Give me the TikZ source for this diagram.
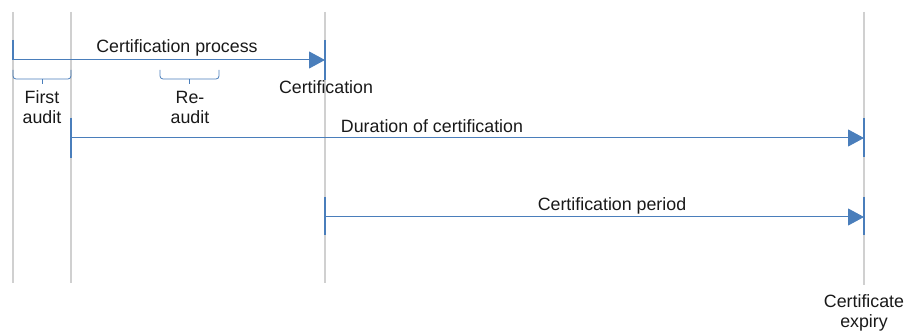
\documentclass[tikz,border=0pt]{standalone}
\usepackage{fontspec}
\setmainfont{Liberation Sans}
\usetikzlibrary{arrows.meta}
\definecolor{lineblue}{HTML}{4A7EBB}
\definecolor{guide}{HTML}{D0D0D0}
\begin{document}
\begin{tikzpicture}[x=1pt,y=-1pt,
  guideline/.style={draw=guide,line width=1.5pt},
  tick/.style={draw=lineblue,line width=1.2pt},
  span/.style={draw=lineblue,line width=1pt,-{Triangle[length=16pt,width=17pt]}},
  brace/.style={draw=lineblue,line width=0.8pt,rounded corners=3pt},
  lbl/.style={font=\fontsize{17.8}{20}\selectfont,inner sep=0pt,align=center,text=black!90}]
\useasboundingbox (0,0) rectangle (906,334);
% guide lines
\foreach \n/\x/\b in {ga/13/283, gb/71/283, gc/325/283, gd/864/285}{
  \coordinate (\n top) at (\x,12);
  \coordinate (\n bot) at (\x,\b);
  \draw[guideline] (\n top) -- (\n bot);
}
% certification process
\coordinate (p0) at (13,60);
\coordinate (p1) at (325,60);
\draw[tick] (13,40) -- (13,60);
\draw[tick] (325,40) -- (325,80);
\draw[span] (p0) -- (p1);
\node[lbl] (cp) at (177,48) {Certification process};
\node[lbl] (cert) at (326,87) {Certification};
% braces
\draw[brace] (13,70) -- (13,79) -- (71,79) -- (71,70);
\draw[brace] (42,79) -- (42,84);
\node[lbl] (fa) at (42,107) {First\\audit};
\draw[brace] (160,70) -- (160,79) -- (219,79) -- (219,70);
\draw[brace] (189,79) -- (189,84);
\node[lbl] (ra) at (190,107) {Re-\\audit};
% duration of certification
\coordinate (d0) at (71,138);
\coordinate (d1) at (864,138);
\draw[tick] (71,118) -- (71,158);
\draw[tick] (864,118) -- (864,157);
\draw[span] (d0) -- (d1);
\node[lbl] (doc) at (432,126) {Duration of certification};
% certification period
\coordinate (c0) at (325,217);
\coordinate (c1) at (864,217);
\draw[tick] (325,197) -- (325,235);
\draw[tick] (864,197) -- (864,235);
\draw[span] (c0) -- (c1);
\node[lbl] (cpd) at (612,206) {Certification period};
\node[lbl] (exp) at (864,313) {Certificate\\expiry};
\end{tikzpicture}
\end{document}
